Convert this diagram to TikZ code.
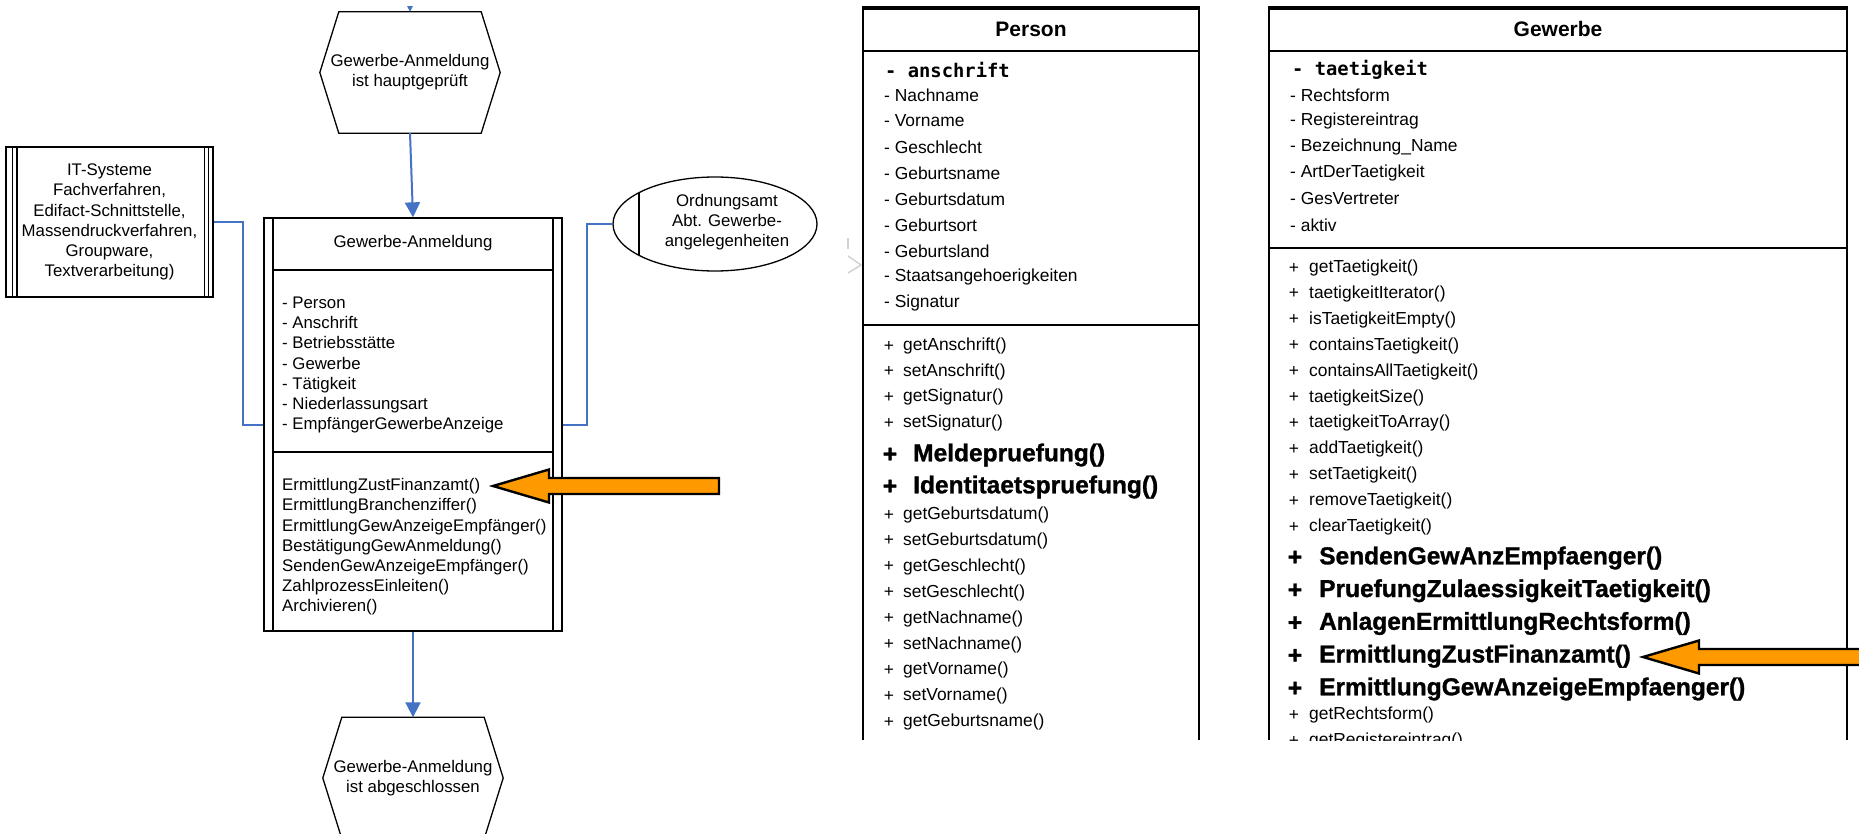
\documentclass[tikz,border=0pt]{standalone}
\usepackage{fontspec}
\setmainfont{Liberation Sans}
\newfontfamily\umlmono{DejaVu Sans Mono}
\newfontfamily\umlheavy{Liberation Sans}[BoldFeatures={FakeBold=1.2}]
\usetikzlibrary{arrows.meta}
\usetikzlibrary{shapes.geometric}

\definecolor{flowblue}{RGB}{68,114,196}
\definecolor{hintorange}{RGB}{255,153,0}

\newcommand\flowfont{\fontsize{16.8}{20.2}\selectfont}
\newcommand\umlfont{\fontsize{17.4}{20}\selectfont}
\newcommand\umlboldfont{\umlheavy\fontsize{24.5}{28}\selectfont\bfseries}
\newcommand\umltitlefont{\fontsize{21}{24}\selectfont\bfseries}
\newcommand\umlattrfont{\umlmono\fontsize{18.8}{22}\selectfont\bfseries}

% hexagon round a named node
\newcommand\hexframe[1]{%
\draw [line width=1.3pt] (#1.west) -- ([xshift=19pt]#1.north west) -- ([xshift=-19pt]#1.north east)
  -- (#1.east) -- ([xshift=-19pt]#1.south east) -- ([xshift=19pt]#1.south west) -- cycle;}

% orange pointer: tip x, tip y, tail x
\newcommand\hintarrow[3]{%
\filldraw [fill=hintorange,draw=black,line width=2.4pt]
  (#1,#2) -- (#1+56,#2-16.5) -- (#1+56,#2-8) -- (#3,#2-8) -- (#3,#2+8)
  -- (#1+56,#2+8) -- (#1+56,#2+16.5) -- cycle;}

\tikzset{
  flow/.style={draw=flowblue,line width=2pt},
  flowarrow/.style={flow,-{Triangle[length=15pt,width=15pt]}},
  event/.style={minimum width=180pt,minimum height=121pt,inner sep=0pt,align=center,font=\flowfont},
  thinbox/.style={draw,line width=1.3pt},
  flowtext/.style={font=\flowfont,align=left,anchor=west,inner sep=0pt},
  umlline/.style={draw,line width=2pt},
  umlitem/.style={font=\umlfont,anchor=west,inner sep=0pt},
  umlbold/.style={font=\umlboldfont,anchor=west,inner sep=0pt},
  umlplus/.style={font=\umlfont,inner sep=0pt},
  umlboldplus/.style={font=\umlboldfont,inner sep=0pt},
}

\begin{document}
\begin{tikzpicture}[x=1pt,y=-1pt]
\useasboundingbox (0,0) rectangle (1859,834);
\clip (0,0) rectangle (1859,834);

%% process chain
\node [event] (checked) at (410,72.5) {Gewerbe-Anmeldung\\ist hauptgeprüft};
\hexframe{checked}
\node [event] (closed) at (413,778) {Gewerbe-Anmeldung\\ist abgeschlossen};
\hexframe{closed}

\node [thinbox,minimum width=207pt,minimum height=150pt,align=center,font=\flowfont] (itsys) at (109.5,222)
  {IT-Systeme\\Fachverfahren,\\Edifact-Schnittstelle,\\Massendruckverfahren,\\Groupware,\\Textverarbeitung)};
\draw [line width=1.3pt] ([xshift=7pt]itsys.north west) -- ([xshift=7pt]itsys.south west);
\draw [line width=1.3pt] ([xshift=11.5pt]itsys.north west) -- ([xshift=11.5pt]itsys.south west);
\draw [line width=1.3pt] ([xshift=-5.5pt]itsys.north east) -- ([xshift=-5.5pt]itsys.south east);
\draw [line width=1.3pt] ([xshift=-9.5pt]itsys.north east) -- ([xshift=-9.5pt]itsys.south east);

\node [thinbox,minimum width=298pt,minimum height=413pt] (anmeldung) at (413,424.5) {};
\draw [line width=1.3pt] (273,218) -- (273,631);
\draw [line width=1.3pt] (553,218) -- (553,631);
\draw [line width=1.3pt] (273,270) -- (553,270);
\draw [line width=1.3pt] (273,452) -- (553,452);
\node [font=\flowfont] (anmtitle) at (413,243) {Gewerbe-Anmeldung};
\node [flowtext] (anmattr) at (282,365) {- Person\\- Anschrift\\- Betriebsstätte\\- Gewerbe\\- Tätigkeit\\- Niederlassungsart\\- EmpfängerGewerbeAnzeige};
\node [flowtext] (anmops) at (282,547) {ErmittlungZustFinanzamt()\\ErmittlungBranchenziffer()\\ErmittlungGewAnzeigeEmpfänger()\\BestätigungGewAnmeldung()\\SendenGewAnzeigeEmpfänger()\\ZahlprozessEinleiten()\\Archivieren()};

\node [draw,ellipse,line width=1.3pt,minimum width=204pt,minimum height=94pt,inner sep=0pt] (office) at (715,224) {};
\draw [line width=1.3pt] (639,192.6) -- (639,255.4);
\node [font=\flowfont,align=center] (officetxt) at (727,222) {Ordnungsamt\\Abt. Gewerbe-\\angelegenheiten};

\coordinate (incoming) at (410,-20);
\begin{scope}
\clip (0,7) rectangle (1859,20);
\draw [flowarrow] (incoming) -- (checked.north);
\end{scope}
\draw [flowarrow] (checked.south) -- (anmeldung.north);
\draw [flowarrow] (anmeldung.south) -- (closed.north);
\draw [flow] (itsys.east) -- ++(29,0) |- (anmeldung.west);
\draw [flow] (anmeldung.east) -- ++(24,0) |- (office.west);

\hintarrow{493}{486}{719}

%% class Person
\draw [gray!35,line width=1.5pt] (848,256) -- (861,265) -- (848,273);
\draw [gray!35,line width=1.5pt] (848,238) -- (848,249);

\draw [umlline] (863,740) -- (863,8) -- (1199,8) -- (1199,740);
\draw [line width=3.5pt] (862,8) -- (1200,8);
\draw [umlline] (863,51) -- (1199,51);
\draw [umlline] (863,325) -- (1199,325);
\node [font=\umltitlefont] (persontitle) at (1031,29) {Person};
\node [font=\umlattrfont,anchor=west,inner sep=0pt] (personkey) at (885,70) {- anschrift};
\foreach \attr [count=\i] in {Nachname,Vorname,Geschlecht,Geburtsname,Geburtsdatum,Geburtsort,Geburtsland,Staatsangehoerigkeiten,Signatur}
  \node [umlitem] (pattr\i) at (884,{95+26*(\i-1)}) {- \attr};
\foreach \op [count=\i] in {getAnschrift,setAnschrift,getSignatur,setSignatur}
{
  \node [umlplus] (pplusa\i) at (889,{346+25.7*(\i-1)}) {+};
  \node [umlitem] (popa\i) at (903,{346+25.7*(\i-1)}) {\op()};
}
\foreach \op [count=\i] in {Meldepruefung,Identitaetspruefung}
{
  \node [umlboldplus] (pplusb\i) at (890,{455+32*(\i-1)}) {+};
  \node [umlbold] (popb\i) at (913,{455+32*(\i-1)}) {\op()};
}
\foreach \op [count=\i] in {getGeburtsdatum,setGeburtsdatum,getGeschlecht,setGeschlecht,getNachname,setNachname,getVorname,setVorname,getGeburtsname}
{
  \node [umlplus] (ppluse\i) at (889,{515+25.9*(\i-1)}) {+};
  \node [umlitem] (pope\i) at (903,{515+25.9*(\i-1)}) {\op()};
}

%% class Gewerbe
\draw [umlline] (1269,740) -- (1269,8) -- (1847,8) -- (1847,740);
\draw [line width=3.5pt] (1268,8) -- (1848,8);
\draw [umlline] (1269,51) -- (1847,51);
\draw [umlline] (1269,248) -- (1847,248);
\node [font=\umltitlefont] (gewtitle) at (1558,29) {Gewerbe};
\node [font=\umlattrfont,anchor=west,inner sep=0pt] (gewkey) at (1292,70) {- taetigkeit};
\foreach \attr [count=\i] in {Rechtsform,Registereintrag,Bezeichnung\_Name,ArtDerTaetigkeit,GesVertreter,aktiv}
  \node [umlitem] (gattr\i) at (1290,{95+26*(\i-1)}) {- \attr};
\foreach \op [count=\i] in {getTaetigkeit,taetigkeitIterator,isTaetigkeitEmpty,containsTaetigkeit,containsAllTaetigkeit,taetigkeitSize,taetigkeitToArray,addTaetigkeit,setTaetigkeit,removeTaetigkeit,clearTaetigkeit}
{
  \node [umlplus] (gplusa\i) at (1294,{268+25.9*(\i-1)}) {+};
  \node [umlitem] (gopa\i) at (1309,{268+25.9*(\i-1)}) {\op()};
}
\foreach \op [count=\i] in {SendenGewAnzEmpfaenger,PruefungZulaessigkeitTaetigkeit,AnlagenErmittlungRechtsform,ErmittlungZustFinanzamt,ErmittlungGewAnzeigeEmpfaenger}
{
  \node [umlboldplus] (gplusb\i) at (1295,{558+32.75*(\i-1)}) {+};
  \node [umlbold] (gopb\i) at (1319,{558+32.75*(\i-1)}) {\op()};
}
\begin{scope}
\clip (1269,0) rectangle (1847,740);
\foreach \op [count=\i] in {getRechtsform,getRegistereintrag}
{
  \node [umlplus] (gpluse\i) at (1294,{715+26*(\i-1)}) {+};
  \node [umlitem] (gope\i) at (1309,{715+26*(\i-1)}) {\op()};
}
\end{scope}

\hintarrow{1643}{657}{1880}

\end{tikzpicture}
\end{document}
